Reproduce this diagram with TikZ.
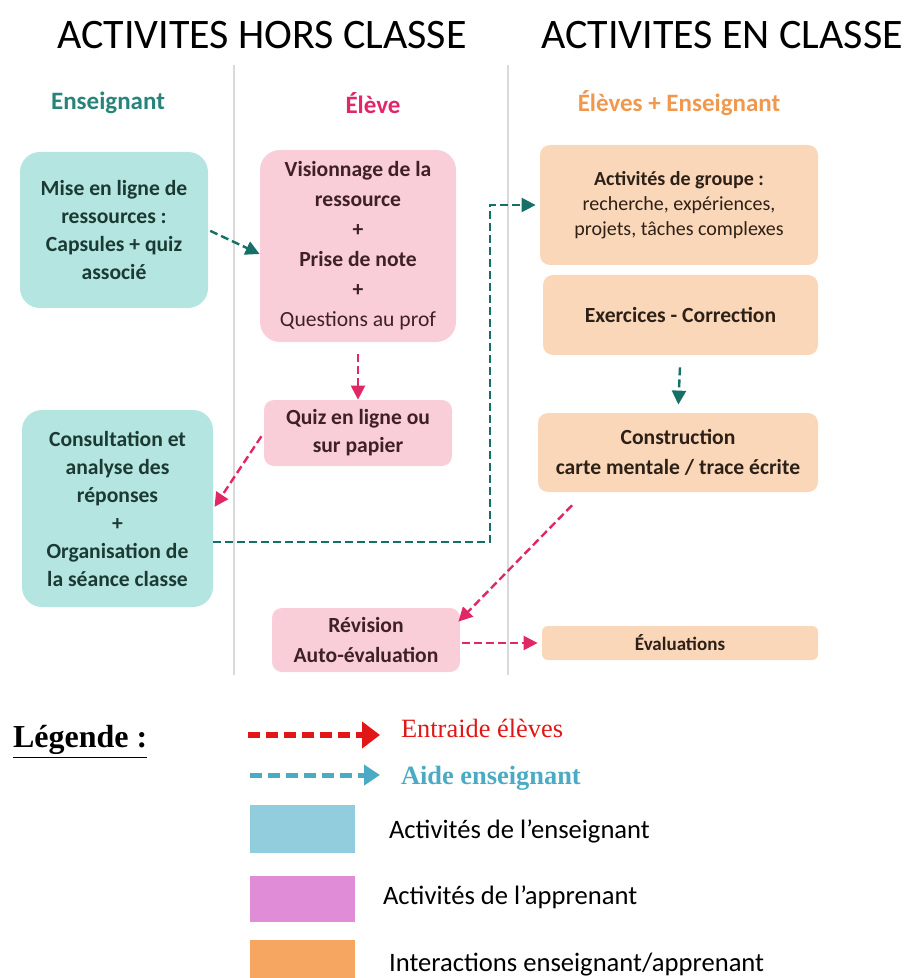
\documentclass[tikz,border=0pt]{standalone}
\usepackage{fontspec}
\setmainfont{Carlito}
\newfontfamily\timesfont{Liberation Serif}
\usetikzlibrary{arrows.meta,positioning}
\definecolor{tealfill}{RGB}{180,229,224}
\definecolor{tealtext}{RGB}{28,58,52}
\definecolor{pinkfill}{RGB}{250,206,217}
\definecolor{pinktext}{RGB}{62,32,38}
\definecolor{orangefill}{RGB}{251,215,186}
\definecolor{darktext}{RGB}{45,32,22}
\definecolor{aidecol}{RGB}{22,112,102}
\definecolor{entraidecol}{RGB}{224,40,100}
\definecolor{enscol}{RGB}{40,132,122}
\definecolor{elevecol}{RGB}{226,38,104}
\definecolor{mixcol}{RGB}{240,152,78}
\definecolor{legred}{RGB}{226,22,22}
\definecolor{legteal}{RGB}{75,170,196}
\definecolor{legblue}{RGB}{146,205,221}
\definecolor{legpink}{RGB}{224,140,214}
\definecolor{legorange}{RGB}{246,166,96}

\begin{document}
\begin{tikzpicture}[x=0.5pt,y=-0.5pt,
    box/.style={rounded corners=5pt,align=center,inner sep=2pt,
      font=\fontsize{10.8}{14}\selectfont\bfseries},
    prof/.style={box,fill=tealfill,text=tealtext,rounded corners=10pt},
    eleve/.style={box,fill=pinkfill,text=pinktext},
    classe/.style={box,fill=orangefill,text=darktext},
    aide/.style={aidecol,line width=1.2pt,dash pattern=on 4pt off 2pt,
      -{Triangle[length=7pt,width=7pt]}},
    entraide/.style={entraidecol,line width=1.2pt,dash pattern=on 4pt off 2pt,
      -{Triangle[length=7pt,width=7pt]}},
    titre/.style={font=\fontsize{21}{23}\selectfont},
    colonne/.style={font=\fontsize{12.5}{14}\selectfont\bfseries},
    legtext/.style={font=\fontsize{13.3}{15}\selectfont,anchor=west}]
  \useasboundingbox (0,0) rectangle (915,978);

  \node[titre] at (262,35) {ACTIVITES HORS CLASSE};
  \node[titre] at (722,35) {ACTIVITES EN CLASSE};
  \draw[black!15,line width=0.6pt] (234,65) -- (234,675);
  \draw[black!15,line width=0.6pt] (508,65) -- (508,675);
  \node[colonne,enscol] at (108,103) {Enseignant};
  \node[colonne,elevecol] at (373,103) {Élève};
  \node[colonne,mixcol] at (679,103) {Élèves + Enseignant};

  \node[prof,minimum width=94pt,minimum height=78pt] (mise) at (114,230)
    {Mise en ligne de\\ressources :\\Capsules + quiz\\associé};
  \node[eleve,rounded corners=10pt,minimum width=98pt,minimum height=96pt,font=\fontsize{10.8}{15}\selectfont\bfseries] (vision) at (358,246)
    {Visionnage de la\\ressource\\+\\Prise de note\\+\\\mdseries Questions au prof};
  \node[eleve,minimum width=94pt,minimum height=33pt] (quiz) at (358,433)
    {Quiz en ligne ou\\sur papier};
  \node[prof,minimum width=95.5pt,minimum height=98.5pt] (consult) at (117.5,508.5)
    {Consultation et\\analyse des\\réponses\\+\\Organisation de\\la séance classe};
  \node[eleve,minimum width=94pt,minimum height=32pt,font=\fontsize{10.8}{15}\selectfont\bfseries] (revision) at (366,640)
    {Révision\\Auto-évaluation};

  \node[classe,minimum width=139pt,minimum height=60pt,font=\fontsize{10}{12.5}\selectfont] (groupe) at (679,205)
    {\bfseries Activités de groupe :\\recherche, expériences,\\projets, tâches complexes};
  \node[classe,minimum width=137.5pt,minimum height=40pt] (exos) at (680.5,315)
    {Exercices - Correction};
  \node[classe,minimum width=140pt,minimum height=39.5pt,font=\fontsize{10.8}{15}\selectfont\bfseries] (carte) at (678,452.5)
    {Construction\\carte mentale / trace écrite};
  \node[classe,rounded corners=3pt,minimum width=138pt,minimum height=17pt,font=\fontsize{9.5}{11}\selectfont\bfseries] (evals) at (680,643)
    {Évaluations};

  \draw[aide,shorten <=1pt] (mise.east) -- ([yshift=-4pt]vision.west);
  \draw[entraide,shorten <=6pt] (vision.south) -- (quiz.north);
  \draw[entraide,shorten <=2pt,shorten >=1pt] (quiz.west) -- (consult.east);
  \coordinate (coude) at (490,542);
  \draw[aide] (consult.east |- coude) -- (coude) |- ([xshift=-2pt]groupe.west);
  \draw[aide,shorten <=6pt,shorten >=4pt] (exos.south) -- (carte.north);
  \draw[entraide,shorten <=9pt] ([xshift=23.5pt]carte.south west) -- ([xshift=-1pt,yshift=-7pt]revision.north east);
  \draw[entraide,shorten <=1pt,shorten >=2pt] (revision.east |- evals.west) -- (evals.west);

  \node[font=\timesfont\fontsize{16}{18}\selectfont\bfseries,anchor=west] (legende) at (6,742)
    {\underline{Légende :}};
  \coordinate (rouge1) at (248,735);
  \coordinate (rouge2) at (380,735);
  \coordinate (bleu1) at (250,775);
  \coordinate (bleu2) at (380,775);
  \draw[legred,line width=3pt,dash pattern=on 6pt off 3pt,-{Triangle[length=9pt,width=13pt]}] (rouge1) -- (rouge2);
  \draw[legteal,line width=2.5pt,dash pattern=on 6pt off 3pt,-{Triangle[length=8pt,width=10pt]}] (bleu1) -- (bleu2);
  \node[legred,font=\timesfont\fontsize{13.2}{15}\selectfont,anchor=west] (entr) at (394,728) {Entraide élèves};
  \node[legteal,font=\timesfont\fontsize{13.2}{15}\selectfont\bfseries,anchor=west] (aid) at (394,778) {Aide enseignant};

  \node[fill=legblue,minimum width=52.5pt,minimum height=24pt,inner sep=0pt] (carre1) at (302.5,829) {};
  \node[fill=legpink,minimum width=52.5pt,minimum height=23pt,inner sep=0pt] (carre2) at (302.5,899) {};
  \node[fill=legorange,minimum width=52.5pt,minimum height=20pt,inner sep=0pt,anchor=north] (carre3) at (302.5,940) {};
  \node[legtext] at (382,831) {Activités de l’enseignant};
  \node[legtext] at (376,897) {Activités de l’apprenant};
  \node[legtext] at (382,965) {Interactions enseignant/apprenant};
\end{tikzpicture}
\end{document}
